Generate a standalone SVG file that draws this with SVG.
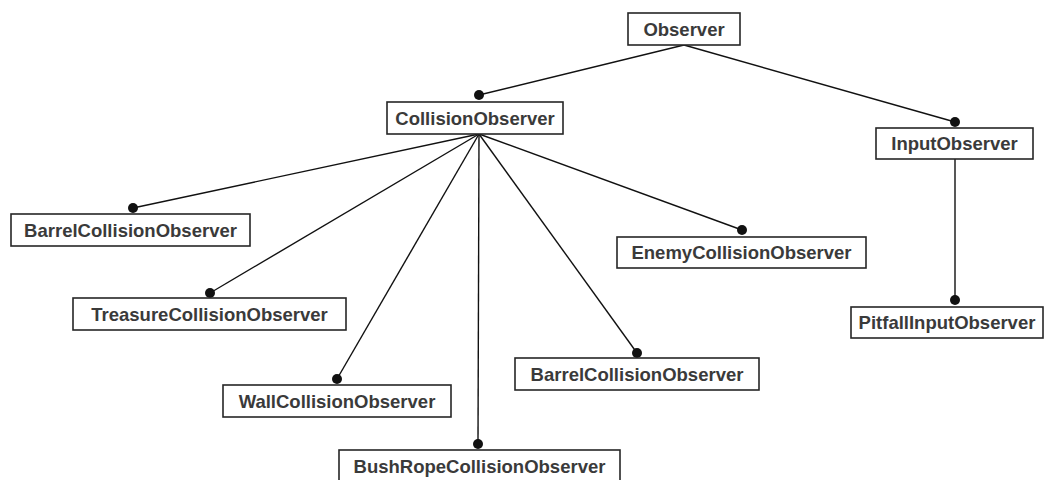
<svg xmlns="http://www.w3.org/2000/svg" width="1047" height="480" viewBox="0 0 1047 480">
<style>
.box{fill:#fff;stroke:#262626;stroke-width:1.6}
.lbl{font-family:"Liberation Sans",Arial,sans-serif;font-weight:bold;font-size:18.5px;fill:#3a3a3a;text-anchor:middle}
.edge{stroke:#111;stroke-width:1.4;fill:none}
.dot{fill:#111}
</style>
<rect width="1047" height="480" fill="#fff"/>
<g id="connectors">
<line class="edge" x1="684" y1="45" x2="479" y2="95"/>
<line class="edge" x1="684" y1="45" x2="955" y2="122"/>
<line class="edge" x1="955" y1="159" x2="955" y2="300"/>
<line class="edge" x1="479" y1="134" x2="133" y2="208"/>
<line class="edge" x1="479" y1="134" x2="210" y2="293"/>
<line class="edge" x1="479" y1="134" x2="337" y2="379"/>
<line class="edge" x1="479" y1="134" x2="478" y2="444"/>
<line class="edge" x1="479" y1="134" x2="637" y2="353"/>
<line class="edge" x1="479" y1="134" x2="742" y2="230"/>
<circle class="dot" cx="479" cy="95" r="5"/>
<circle class="dot" cx="955" cy="122" r="5"/>
<circle class="dot" cx="955" cy="300" r="5"/>
<circle class="dot" cx="133" cy="208" r="5"/>
<circle class="dot" cx="210" cy="293" r="5"/>
<circle class="dot" cx="337" cy="379" r="5"/>
<circle class="dot" cx="478" cy="444" r="5"/>
<circle class="dot" cx="637" cy="353" r="5"/>
<circle class="dot" cx="742" cy="230" r="5"/>
</g>
<g id="observer"><rect class="box" x="628" y="13" width="112" height="32"/><text class="lbl" x="684" y="35.5">Observer</text></g>
<g id="collisionObserver"><rect class="box" x="387" y="102" width="176" height="32"/><text class="lbl" x="475" y="124.5">CollisionObserver</text></g>
<g id="inputObserver"><rect class="box" x="876" y="128" width="157" height="31"/><text class="lbl" x="954.5" y="150">InputObserver</text></g>
<g id="barrelCollisionObserver1"><rect class="box" x="11" y="214" width="239" height="32"/><text class="lbl" x="130.5" y="236.5">BarrelCollisionObserver</text></g>
<g id="treasureCollisionObserver"><rect class="box" x="73" y="298" width="273" height="32"/><text class="lbl" x="209.5" y="320.5">TreasureCollisionObserver</text></g>
<g id="wallCollisionObserver"><rect class="box" x="223" y="385" width="228" height="32"/><text class="lbl" x="337" y="407.5">WallCollisionObserver</text></g>
<g id="bushRopeCollisionObserver"><rect class="box" x="339" y="450" width="281" height="34"/><text class="lbl" x="479.5" y="472.5">BushRopeCollisionObserver</text></g>
<g id="barrelCollisionObserver2"><rect class="box" x="515" y="358" width="244" height="32"/><text class="lbl" x="637" y="380.5">BarrelCollisionObserver</text></g>
<g id="enemyCollisionObserver"><rect class="box" x="617" y="237" width="249" height="31"/><text class="lbl" x="741.5" y="259">EnemyCollisionObserver</text></g>
<g id="pitfallInputObserver"><rect class="box" x="851" y="307" width="192" height="31"/><text class="lbl" x="947" y="329">PitfallInputObserver</text></g>
</svg>
